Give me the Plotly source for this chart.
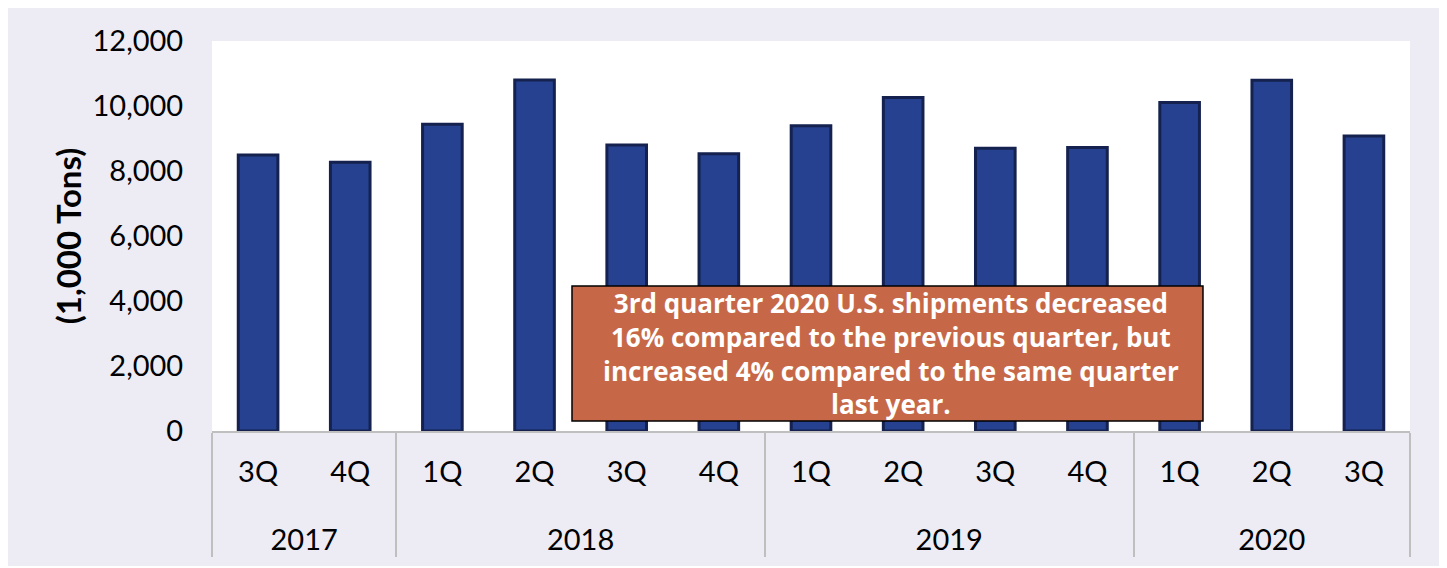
import plotly.graph_objects as go

years = ["2017", "2017", "2018", "2018", "2018", "2018", "2019", "2019", "2019", "2019", "2020", "2020", "2020"]
quarters = ["3Q", "4Q", "1Q", "2Q", "3Q", "4Q", "1Q", "2Q", "3Q", "4Q", "1Q", "2Q", "3Q"]
shipments = [8490, 8270, 9440, 10800, 8800, 8530, 9390, 10260, 8700, 8720, 10110, 10790, 9080]
y_ticks = [0, 2000, 4000, 6000, 8000, 10000, 12000]
note_lines = [
    "3rd quarter 2020 U.S. shipments decreased",
    "16% compared to the previous quarter, but",
    "increased 4% compared to the same quarter",
    "last year.",
]

FONT = "Lato, Carlito, Calibri, sans-serif"
NOTE_FONT = "Open Sans, sans-serif"

# Quarter keys: keep visible text identical, but keep the first year's keys distinct
# so plotly's multicategory ordering preserves chronological order; an invisible
# second line spaces the year row further from the quarter row.
quarter_keys = [
    q + "<br><span style='font-size:64px'>" + ("\u2002" if y == years[0] else "\u00a0") + "</span>"
    for y, q in zip(years, quarters)
]

fig = go.Figure(go.Bar(
    x=[years, quarter_keys],
    y=shipments,
    marker=dict(color="#26418F", line=dict(color="#15224F", width=3)),
    width=0.43,
))

# annotation box in paper coordinates
box_x0, box_x1, box_y0, box_y1 = 0.3005, 0.8272, 0.0256, 0.3718

fig.update_layout(
    width=1438, height=558,
    margin=dict(l=204, r=36, t=33, b=135),
    paper_bgcolor="#EDECF5",
    plot_bgcolor="#FFFFFF",
    showlegend=False,
    font=dict(family=FONT, color="#000000", size=29),
    xaxis=dict(
        type="multicategory",
        showline=True, linecolor="#BFBFBF", linewidth=1.5,
        showgrid=False,
        showdividers=True, dividercolor="#BFBFBF", dividerwidth=1.5,
        ticks="outside", ticklen=33, tickcolor="rgba(0,0,0,0)",
        ticklabelstandoff=14,
        tickfont=dict(size=29),
    ),
    yaxis=dict(
        range=[0, 12000],
        tickvals=y_ticks,
        tickformat=",d",
        showgrid=False, zeroline=False, showline=False,
        ticks="outside", ticklen=22, tickcolor="rgba(0,0,0,0)",
        tickfont=dict(size=29),
        title=dict(text="<b>(1,000 Tons)</b>", font=dict(size=33), standoff=0),
    ),
    shapes=[dict(type="rect", xref="paper", yref="paper",
                 x0=box_x0, x1=box_x1, y0=box_y0, y1=box_y1,
                 fillcolor="#C66847", line=dict(color="#000000", width=1.5),
                 layer="above")],
    annotations=[dict(
        text="<b>" + "<br>".join(note_lines) + "</b>",
        xref="paper", yref="paper", x=0.5668, y=0.2,
        xanchor="center", yanchor="middle", showarrow=False, align="center",
        font=dict(size=26, color="#FFFFFF", family=NOTE_FONT),
    )],
)

fig.write_html("out.html")
